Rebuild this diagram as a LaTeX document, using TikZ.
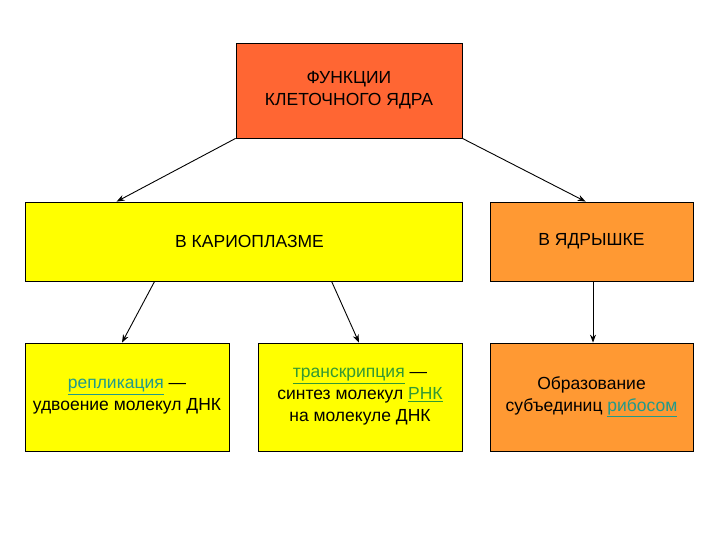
\documentclass[tikz,border=0pt]{standalone}
\usepackage{fontspec}
\setmainfont{Liberation Sans}
\usetikzlibrary{arrows.meta}
\definecolor{topred}{HTML}{FF6633}
\definecolor{yel}{HTML}{FFFF00}
\definecolor{orng}{HTML}{FF9933}
\definecolor{lgreen}{HTML}{339933}
\definecolor{lteal}{HTML}{229A8A}
\newcommand{\lnk}[2]{\textcolor{#1}{\underline{#2}}}
\tikzset{
  box/.style={draw=black, line width=0.8pt, rectangle, align=center, inner sep=0pt,
    font=\fontsize{17.5}{22}\selectfont},
  arr/.style={-{Stealth[length=8pt,width=6pt]}, line width=0.9pt, black}
}
\begin{document}
\begin{tikzpicture}[x=1pt,y=-1pt]
\useasboundingbox (0,0) rectangle (720,540);
\node[box, fill=topred, minimum width=226pt, minimum height=95pt] (top) at (349,90.5) {ФУНКЦИИ\\КЛЕТОЧНОГО ЯДРА};
\node[box, fill=yel, minimum width=437pt, minimum height=79pt] (kar) at (243.5,241.5) {\hspace*{12pt}В КАРИОПЛАЗМЕ};
\node[box, fill=orng, minimum width=203pt, minimum height=79pt] (nuc) at (591.5,241.5) {В ЯДРЫШКЕ};
\node[box, fill=yel, minimum width=204pt, minimum height=108pt] (b1) at (127,397) {\lnk{lteal}{репликация} —\\удвоение молекул ДНК};
\node[box, fill=yel, minimum width=204pt, minimum height=108pt] (b2) at (360,397) {\lnk{lgreen}{транскрипция} —\\синтез молекул \lnk{lgreen}{РНК}\\на молекуле ДНК};
\node[box, fill=orng, minimum width=203pt, minimum height=108pt] (b3) at (591.5,397) {Образование\\субъединиц \lnk{lteal}{рибосом}};
\draw[arr] (top.south west) -- ([xshift=92pt]kar.north west);
\draw[arr] (top.south east) -- ([xshift=96pt]nuc.north west);
\draw[arr] ([xshift=130pt]kar.south west) -- ([xshift=-5pt]b1.north);
\draw[arr] ([xshift=307pt]kar.south west) -- ([xshift=-1pt]b2.north);
\draw[arr] ([xshift=1.5pt]nuc.south) -- ([xshift=1.5pt]b3.north);
\end{tikzpicture}
\end{document}
